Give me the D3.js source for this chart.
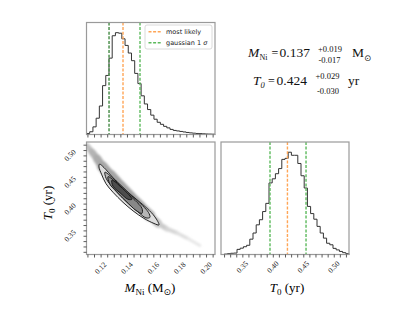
<!DOCTYPE html>
<html>
<head>
<meta charset="utf-8">
<script src="https://cdn.jsdelivr.net/npm/d3@7"></script>
<style>
body{margin:0;background:#fff}
</style>
</head>
<body>
<svg id="chart" width="415" height="312" font-family="Liberation Serif, Times New Roman, serif"></svg>
<script>
// axis ranges of the two parameters
let mniRange = [0.1093, 0.2068];
let t0Range = [0.315, 0.525];

// marginal histograms, 40 bins across each range (relative counts)
let mniCounts = [10, 27, 75, 160, 280, 480, 580, 750, 970, 1000, 995, 940, 875, 800, 725, 600, 500, 380, 300, 245,
	190, 150, 120, 100, 80, 65, 50, 40, 35, 30, 25, 20, 16, 13, 10, 9, 7, 5, 4, 3];
let t0Counts = [0, 4, 8, 12, 14, 50, 62, 76, 90, 150, 210, 290, 340, 420, 500, 700, 740, 790, 840, 930,
	940, 1000, 970, 970, 890, 770, 650, 470, 400, 345, 275, 210, 160, 110, 95, 60, 45, 30, 18, 8];

// summary values
let mniBest = 0.137;
let t0Best = 0.424;
let mniErr = ["+0.019", "-0.017"];
let t0Err = ["+0.029", "-0.030"];
let mniSigma = [0.1264, 0.1499];
let t0Sigma = [0.3954, 0.4545];
let mniQuantile = [0.1264];

// tick labels
let mniTicks = [0.12, 0.14, 0.16, 0.18, 0.20];
let t0Ticks = [0.35, 0.40, 0.45, 0.50];
let mniMinor = d3.range(22, 42).map(i => +(i * 0.005).toFixed(3));
let t0Minor = d3.range(32, 53).map(i => i / 100);

// ridge of the sample cloud in the 2D panel
let ridgeMni = [0.1097, 0.1135, 0.1173, 0.1211, 0.1271, 0.1347, 0.1423, 0.1499, 0.1574, 0.1635, 0.1703, 0.1779, 0.1862, 0.1953];
let ridgeT0 = [0.5175, 0.5062, 0.4940, 0.4800, 0.4622, 0.4415, 0.4218, 0.4040, 0.3871, 0.3730, 0.3627, 0.3552, 0.3449, 0.3318];
let ridgeSpread = [0.010, 0.012, 0.014, 0.017, 0.022, 0.023, 0.023, 0.022, 0.019, 0.011, 0.008, 0.007, 0.006, 0.005];
let ridgeDensity = [0.45, 0.6, 0.7, 0.75, 0.8, 0.8, 0.8, 0.8, 0.7, 0.5, 0.35, 0.28, 0.2, 0.1];

// density contours (outer to inner), [M_Ni, T_0] vertices
let contour1 = [[0.1192,0.4837],[0.1226,0.4772],[0.1294,0.4584],[0.1396,0.4340],[0.1476,0.4171],[0.1552,0.4012],[0.1612,0.3852],[0.1643,0.3702],
	[0.1605,0.3730],[0.1529,0.3824],[0.1446,0.3965],[0.1370,0.4124],[0.1294,0.4312],[0.1241,0.4471],[0.1207,0.4650],[0.1188,0.4781]];
let contour2 = [[0.1233,0.4687],[0.1271,0.4622],[0.1347,0.4453],[0.1423,0.4274],[0.1499,0.4106],[0.1563,0.3937],[0.1574,0.3843],
	[0.1544,0.3834],[0.1483,0.3946],[0.1408,0.4106],[0.1332,0.4293],[0.1271,0.4462],[0.1241,0.4575]];
let contour3 = [[0.1256,0.4603],[0.1309,0.4518],[0.1385,0.4340],[0.1461,0.4162],[0.1514,0.4012],[0.1514,0.3918],
	[0.1468,0.3974],[0.1393,0.4143],[0.1317,0.4331],[0.1271,0.4462]];
let contour4 = [[0.1286,0.4537],[0.1347,0.4425],[0.1415,0.4265],[0.1438,0.4181],[0.1408,0.4181],[0.1347,0.4303],[0.1294,0.4425]];

let orange = "#ffa556";
let green = "#5dba5d";
let frameColor = "#9a9a9a";

let svg = d3.select("#chart");
svg.append("rect").attr("width", 415).attr("height", 312).attr("fill", "#fff");

let panelTop = {"x": 86.5, "y": 22.5, "w": 128.5, "h": 112};
let panelLow = {"x": 86.5, "y": 142, "w": 128.5, "h": 112.5};
let panelSide = {"x": 221, "y": 142, "w": 128, "h": 112.5};

let xM = d3.scaleLinear().domain(mniRange).range([panelTop.x, panelTop.x + panelTop.w]);
let yT = d3.scaleLinear().domain(t0Range).range([panelLow.y + panelLow.h, panelLow.y]);
let xT = d3.scaleLinear().domain(t0Range).range([panelSide.x, panelSide.x + panelSide.w]);
let yHistM = d3.scaleLinear().domain([0, 1.1 * d3.max(mniCounts)]).range([panelTop.y + panelTop.h, panelTop.y]);
let yHistT = d3.scaleLinear().domain([0, 1.1 * d3.max(t0Counts)]).range([panelSide.y + panelSide.h, panelSide.y]);

function stepPoints(counts, range){
	let n = counts.length;
	let w = (range[1] - range[0]) / n;
	let pts = [[range[0], 0]];
	counts.forEach((c, i) => pts.push([range[0] + i * w, c]));
	pts.push([range[1], counts[n - 1]]);
	pts.push([range[1], 0]);
	return pts;
}

function frame(p){
	svg.append("rect")
		.attr("x", p.x).attr("y", p.y)
		.attr("width", p.w).attr("height", p.h)
		.attr("fill", "none")
		.attr("stroke", frameColor)
		.attr("stroke-width", 1.2);
}

function bottomTicks(scale, values, y){
	svg.append("g")
		.attr("transform", "translate(0," + y + ")")
		.call(d3.axisBottom(scale).tickValues(values).tickSize(3).tickFormat(""))
		.call(g => g.select(".domain").remove())
		.call(g => g.selectAll(".tick line").attr("stroke", "#333").attr("stroke-width", 0.8));
}

function leftTicks(scale, values, x){
	svg.append("g")
		.attr("transform", "translate(" + x + ",0)")
		.call(d3.axisLeft(scale).tickValues(values).tickSize(3).tickFormat(""))
		.call(g => g.select(".domain").remove())
		.call(g => g.selectAll(".tick line").attr("stroke", "#333").attr("stroke-width", 0.8));
}

function rotatedLabels(values, px, py){
	svg.append("g").selectAll("text")
		.data(values)
		.join("text")
		.attr("font-size", 7.5)
		.attr("fill", "#222")
		.attr("text-anchor", "middle")
		.attr("dominant-baseline", "central")
		.attr("transform", d => "translate(" + px(d) + "," + py(d) + ") rotate(-45)")
		.text(d => d.toFixed(2));
}

function dashed(x, y0, y1, colour, opacity){
	svg.append("line")
		.attr("x1", x).attr("x2", x)
		.attr("y1", y0).attr("y2", y1)
		.attr("stroke", colour)
		.attr("stroke-opacity", opacity || 1)
		.attr("stroke-width", 1.4)
		.attr("stroke-dasharray", "3,1.6");
}

// ---- top: M_Ni histogram ----
let lineM = d3.line().curve(d3.curveStepAfter).x(d => xM(d[0])).y(d => yHistM(d[1]));
svg.append("path")
	.attr("d", lineM(stepPoints(mniCounts, mniRange)))
	.attr("fill", "none")
	.attr("stroke", "#333")
	.attr("stroke-width", 1);
mniSigma.forEach(v => dashed(xM(v), panelTop.y, panelTop.y + panelTop.h, green));
mniQuantile.forEach(v => dashed(xM(v), panelTop.y, panelTop.y + panelTop.h, "#444", 0.35));
dashed(xM(mniBest), panelTop.y, panelTop.y + panelTop.h, orange);
frame(panelTop);
bottomTicks(xM, mniMinor, panelTop.y + panelTop.h);

// legend
let legend = svg.append("g").attr("transform", "translate(145,25)");
legend.append("rect")
	.attr("width", 67).attr("height", 24).attr("rx", 2)
	.attr("fill", "#fff").attr("fill-opacity", 0.85)
	.attr("stroke", "#d0d0d0").attr("stroke-width", 0.8);
[["most likely ", orange, 6.7, ""], ["gaussian 1 ", green, 17.7, "σ"]].forEach(function(e){
	legend.append("line")
		.attr("x1", 3.5).attr("x2", 16.5)
		.attr("y1", e[2]).attr("y2", e[2])
		.attr("stroke", e[1]).attr("stroke-width", 1.4)
		.attr("stroke-dasharray", "3,1.6");
	let t = legend.append("text")
		.attr("x", 21).attr("y", e[2] + 2.4)
		.attr("font-size", 6.5)
		.attr("font-family", "DejaVu Sans")
		.attr("fill", "#222")
		.text(e[0]);
	t.append("tspan").attr("font-style", "italic").text(e[3]);
});

// ---- 2D panel ----
let defs = svg.append("defs");
defs.append("filter").attr("id", "blur")
	.attr("x", "-20%").attr("y", "-20%").attr("width", "140%").attr("height", "140%")
	.append("feGaussianBlur").attr("stdDeviation", 1.2);
defs.append("clipPath").attr("id", "clip2d")
	.append("rect").attr("x", panelLow.x).attr("y", panelLow.y).attr("width", panelLow.w).attr("height", panelLow.h);

let cloud = svg.append("g").attr("clip-path", "url(#clip2d)").append("g").attr("filter", "url(#blur)");
let greyOf = d3.interpolateRgb("#f6f6f6", "#909090");
for (let i = 0; i < ridgeMni.length - 1; i++){
	let s = (ridgeSpread[i] + ridgeSpread[i + 1]) / 2;
	let dens = (ridgeDensity[i] + ridgeDensity[i + 1]) / 2;
	cloud.append("line")
		.attr("x1", xM(ridgeMni[i])).attr("y1", yT(ridgeT0[i]))
		.attr("x2", xM(ridgeMni[i + 1])).attr("y2", yT(ridgeT0[i + 1]))
		.attr("stroke", greyOf(dens))
		.attr("stroke-width", Math.abs(yT(0) - yT(s)))
		.attr("stroke-linecap", "round");
}

let contourLine = d3.line().curve(d3.curveCatmullRomClosed).x(d => xM(d[0])).y(d => yT(d[1]));
let contourFills = ["#dedede", "#b6b6b6", "#888", "#4c4c4c"];
[contour1, contour2, contour3, contour4].forEach(function(c, i){
	svg.append("path")
		.attr("d", contourLine(c))
		.attr("fill", contourFills[i])
		.attr("stroke", "#111")
		.attr("stroke-width", 0.9);
});
frame(panelLow);
bottomTicks(xM, mniMinor, panelLow.y + panelLow.h);
leftTicks(yT, t0Minor, panelLow.x);
rotatedLabels(mniTicks, d => xM(d), d => 268);
rotatedLabels(t0Ticks, d => 70, d => yT(d));

// ---- right: T_0 histogram ----
let lineT = d3.line().curve(d3.curveStepAfter).x(d => xT(d[0])).y(d => yHistT(d[1]));
svg.append("path")
	.attr("d", lineT(stepPoints(t0Counts, t0Range)))
	.attr("fill", "none")
	.attr("stroke", "#333")
	.attr("stroke-width", 1);
t0Sigma.forEach(v => dashed(xT(v), panelSide.y, panelSide.y + panelSide.h, green));
dashed(xT(t0Best), panelSide.y, panelSide.y + panelSide.h, orange);
frame(panelSide);
bottomTicks(xT, t0Minor, panelSide.y + panelSide.h);
rotatedLabels(t0Ticks, d => xT(d), d => 267);

// ---- axis titles ----
let xl = svg.append("text").attr("x", 150).attr("y", 292).attr("text-anchor", "middle").attr("font-size", 13);
xl.append("tspan").attr("font-style", "italic").text("M");
xl.append("tspan").attr("font-size", 9).attr("dy", 3).text("Ni");
xl.append("tspan").attr("dy", -3).text(" (M");
xl.append("tspan").attr("font-size", 9).attr("dy", 3).attr("font-family", "DejaVu Sans").text("⊙");
xl.append("tspan").attr("dy", -3).text(")");

let yl = svg.append("text").attr("transform", "translate(52,203) rotate(-90)").attr("text-anchor", "middle").attr("font-size", 13);
yl.append("tspan").attr("font-style", "italic").text("T");
yl.append("tspan").attr("font-size", 9).attr("dy", 3).text("0");
yl.append("tspan").attr("dy", -3).text(" (yr)");

let tl = svg.append("text").attr("x", 287).attr("y", 292).attr("text-anchor", "middle").attr("font-size", 13);
tl.append("tspan").attr("font-style", "italic").text("T");
tl.append("tspan").attr("font-size", 9).attr("dy", 3).text("0");
tl.append("tspan").attr("dy", -3).text(" (yr)");

// ---- result annotation ----
let ann = svg.append("g").attr("fill", "#111");
function txt(x, y, s, size, italic, family){
	return ann.append("text").attr("x", x).attr("y", y)
		.attr("font-size", size)
		.attr("font-style", italic ? "italic" : null)
		.attr("font-family", family || null)
		.text(s);
}
let fmt = d3.format(".3f");
txt(248, 56.7, "M", 13.5, true);
txt(259.5, 59.5, "Ni", 8);
txt(271.5, 56.7, "=", 12);
txt(279.5, 56.7, fmt(mniBest), 13.5);
txt(318, 51.5, mniErr[0], 8.5);
txt(318.5, 63, mniErr[1], 8.5);
txt(352, 56.7, "M", 13.5);
txt(364, 60.5, "⊙", 8.5, false, "DejaVu Sans");

txt(253, 85, "T", 13.5, true);
txt(260.5, 88, "0", 8.5, true);
txt(268, 85, "=", 12);
txt(276.5, 85, fmt(t0Best), 13.5);
txt(315.5, 79, t0Err[0], 8.5);
txt(317, 94, t0Err[1], 8.5);
txt(348, 85, "yr", 13.5);
</script>
</body>
</html>
